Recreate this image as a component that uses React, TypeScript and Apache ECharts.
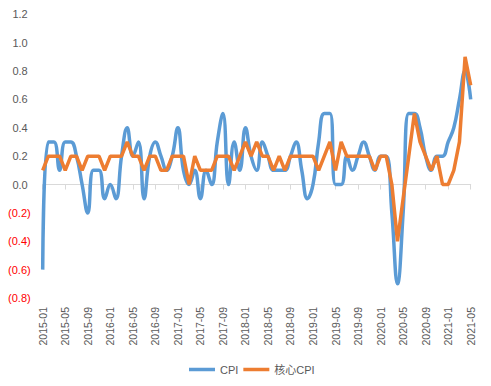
import React, { useEffect, useRef } from "react";
import * as echarts from "echarts";

const months: string[] = [
  "2015-01","2015-02","2015-03","2015-04","2015-05","2015-06","2015-07","2015-08","2015-09","2015-10","2015-11","2015-12",
  "2016-01","2016-02","2016-03","2016-04","2016-05","2016-06","2016-07","2016-08","2016-09","2016-10","2016-11","2016-12",
  "2017-01","2017-02","2017-03","2017-04","2017-05","2017-06","2017-07","2017-08","2017-09","2017-10","2017-11","2017-12",
  "2018-01","2018-02","2018-03","2018-04","2018-05","2018-06","2018-07","2018-08","2018-09","2018-10","2018-11","2018-12",
  "2019-01","2019-02","2019-03","2019-04","2019-05","2019-06","2019-07","2019-08","2019-09","2019-10","2019-11","2019-12",
  "2020-01","2020-02","2020-03","2020-04","2020-05","2020-06","2020-07","2020-08","2020-09","2020-10","2020-11","2020-12",
  "2021-01","2021-02","2021-03","2021-04","2021-05",
];

const cpi: number[] = [
  -0.6, 0.3, 0.3, 0.1, 0.3, 0.3, 0.2, 0.0, -0.2, 0.1, 0.1, -0.1,
  0.0, -0.1, 0.2, 0.4, 0.2, 0.3, -0.1, 0.2, 0.3, 0.2, 0.1, 0.2,
  0.4, 0.1, 0.0, 0.1, -0.1, 0.1, 0.0, 0.3, 0.5, 0.0, 0.3, 0.1,
  0.4, 0.2, 0.1, 0.3, 0.2, 0.1, 0.1, 0.1, 0.2, 0.3, 0.1, -0.1,
  0.0, 0.3, 0.5, 0.5, 0.0, 0.0, 0.2, 0.1, 0.2, 0.3, 0.2, 0.1,
  0.2, 0.2, -0.2, -0.7, -0.2, 0.5, 0.5, 0.4, 0.2, 0.1, 0.2, 0.2,
  0.3, 0.4, 0.6, 0.8, 0.6,
];

const coreCpi: number[] = [
  0.1, 0.2, 0.2, 0.2, 0.1, 0.2, 0.2, 0.1, 0.2, 0.2, 0.2, 0.1,
  0.2, 0.2, 0.2, 0.3, 0.2, 0.2, 0.1, 0.2, 0.2, 0.1, 0.1, 0.2,
  0.2, 0.2, 0.0, 0.2, 0.1, 0.1, 0.1, 0.2, 0.2, 0.2, 0.1, 0.2,
  0.3, 0.2, 0.3, 0.2, 0.2, 0.1, 0.2, 0.1, 0.2, 0.2, 0.2, 0.2,
  0.2, 0.1, 0.2, 0.3, 0.1, 0.3, 0.2, 0.2, 0.2, 0.2, 0.2, 0.1,
  0.2, 0.2, 0.0, -0.4, -0.1, 0.2, 0.5, 0.3, 0.2, 0.1, 0.2, 0.0,
  0.0, 0.1, 0.3, 0.9, 0.7,
];

const seriesNames: string[] = ["CPI", "核心CPI"];

const FONT = "'Liberation Sans', 'Noto Sans CJK SC', sans-serif";

export default function App() {
  const ref = useRef<HTMLDivElement | null>(null);

  useEffect(() => {
    if (!ref.current) return;
    const chart = echarts.init(ref.current, undefined, { renderer: "svg" });
    chart.setOption({
      animation: false,
      backgroundColor: "#ffffff",
      textStyle: { fontFamily: FONT },
      grid: { left: 42.7, right: 20.3, top: 14.3, bottom: 88 },
      legend: {
        data: seriesNames,
        left: 184,
        top: 359,
        icon: "rect",
        itemWidth: 26,
        itemHeight: 3.5,
        itemGap: 5,
        textStyle: { color: "#595959", fontSize: 11, fontFamily: FONT },
      },
      xAxis: [
        {
          type: "category",
          data: months,
          boundaryGap: false,
          position: "bottom",
          axisLine: { show: false, onZero: false },
          axisTick: { show: false },
          axisLabel: {
            interval: 3,
            rotate: 90,
            margin: 9,
            color: "#595959",
            fontSize: 10.5,
            fontFamily: FONT,
            padding: [5, 0, 0, 0],
          },
          splitLine: { show: false },
        },
        {
          type: "category",
          data: months,
          boundaryGap: false,
          position: "bottom",
          axisLine: { show: true, onZero: true, lineStyle: { color: "#D9D9D9", width: 1 } },
          axisTick: { show: true, interval: 3, length: 5, lineStyle: { color: "#D9D9D9" } },
          axisLabel: { show: false },
          splitLine: { show: false },
        },
      ],
      yAxis: {
        type: "value",
        min: -0.8,
        max: 1.2,
        interval: 0.2,
        axisLine: { show: false },
        axisTick: { show: false },
        splitLine: { show: false },
        axisLabel: {
          margin: 12,
          fontSize: 11,
          fontFamily: FONT,
          formatter: (v: number) => {
            const s = Math.abs(v).toFixed(1);
            return v < -1e-9 ? `{neg|(${s})}` : `{pos|${s}}`;
          },
          rich: {
            neg: { color: "#FF0000", fontSize: 11, fontFamily: FONT },
            pos: { color: "#595959", fontSize: 11, fontFamily: FONT, padding: [0, 3, 0, 0] },
          },
        },
      },
      series: [
        {
          name: seriesNames[0],
          type: "line",
          data: cpi,
          xAxisIndex: 0,
          smooth: 0.45,
          showSymbol: false,
          lineStyle: { color: "#5B9BD5", width: 3.5 },
          itemStyle: { color: "#5B9BD5" },
          z: 2,
        },
        {
          name: seriesNames[1],
          type: "line",
          data: coreCpi,
          xAxisIndex: 0,
          smooth: false,
          showSymbol: false,
          lineStyle: { color: "#ED7D31", width: 3.5 },
          itemStyle: { color: "#ED7D31" },
          z: 3,
        },
      ],
    });
    return () => chart.dispose();
  }, []);

  return (
    <div
      ref={ref}
      style={{ position: "fixed", left: 0, top: 0, width: 491, height: 386, background: "#fff" }}
    />
  );
}
